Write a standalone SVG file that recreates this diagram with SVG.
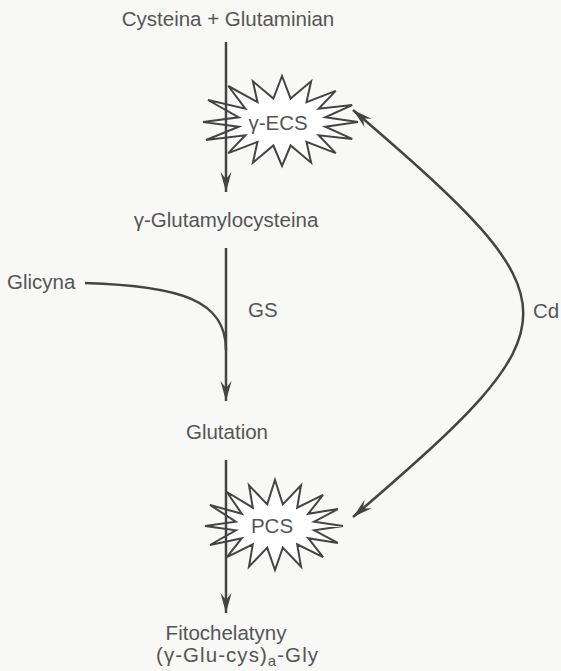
<svg xmlns="http://www.w3.org/2000/svg" width="561" height="671" viewBox="0 0 561 671">
<style>
text{font-family:"Liberation Sans",Arial,sans-serif;font-size:20.5px;fill:#555}
.star{fill:#fff;stroke:#444;stroke-width:2;stroke-linejoin:miter}
.ln{fill:none;stroke:#444;stroke-width:2.5}
</style>
<defs>
<marker id="ah" markerUnits="userSpaceOnUse" markerWidth="26" markerHeight="14" viewBox="-22 -7 24 14" refX="0" refY="0" orient="auto">
<path d="M0,0 L-20,-5.5 L-13,0 L-20,5.5 Z" fill="#444"/>
</marker>
<marker id="ah2" markerUnits="userSpaceOnUse" markerWidth="26" markerHeight="14" viewBox="-2 -7 24 14" refX="0" refY="0" orient="auto">
<path d="M0,0 L20,-5.5 L13,0 L20,5.5 Z" fill="#444"/>
</marker>
</defs>
<rect width="561" height="671" fill="#f8f8f6"/>
<g id="n-ecs">
<polygon class="star" points="358,122 325.2,126.7 352.2,138.9 318.6,135.3 335.7,153.1 306.5,141.9 311.1,162.7 290.6,145.5 282,166 273.4,145.5 252.9,162.7 257.5,141.9 228.3,153.1 245.4,135.3 206,140 238.8,126.7 203,122 238.8,117.3 208,100 245.4,108.7 228.3,86 257.5,102.1 252.9,81.3 273.4,98.5 282,76 290.6,98.5 311.1,81.3 306.5,102.1 335.7,90.9 318.6,108.7 352.2,105.1 325.2,117.3"/>
<text x="278" y="130" text-anchor="middle">γ-ECS</text>
</g>
<g id="n-pcs">
<polygon class="star" points="343,526 314.2,530.3 337.8,542.9 308.2,538.2 323.1,557.1 297.2,544.3 301,566.7 282.8,547.6 275,570 267.2,547.6 249,566.7 252.8,544.3 226.9,557.1 241.8,538.2 210,545 235.8,530.3 205,526 235.8,521.7 210,505 241.8,513.8 226.9,492 252.8,507.7 249,485.3 267.2,504.4 275,480 282.8,504.4 301,485.3 297.2,507.7 323.1,494.9 308.2,513.8 337.8,509.1 314.2,521.7"/>
<text x="272" y="533" text-anchor="middle">PCS</text>
</g>
<g id="n-cys"><text x="228" y="26" text-anchor="middle">Cysteina + Glutaminian</text></g>
<g id="n-gec"><text x="226" y="227" text-anchor="middle">γ-Glutamylocysteina</text></g>
<g id="n-gly"><text x="7" y="289">Glicyna</text></g>
<g id="n-glut"><text x="227" y="439" text-anchor="middle">Glutation</text></g>
<g id="n-fito">
<text x="226" y="640" text-anchor="middle">Fitochelatyny</text>
<text x="156" y="662" textLength="162" lengthAdjust="spacing">(γ-Glu-cys)<tspan dy="4" font-size="15">a</tspan><tspan dy="-4">-Gly</tspan></text>
</g>
<g id="n-cd"><text x="533" y="318">Cd</text></g>
<g id="l-gs"><text x="248" y="317">GS</text></g>
<g id="connectors">
<line class="ln" x1="226" y1="42" x2="226" y2="192" marker-end="url(#ah)"/>
<line class="ln" x1="226" y1="248" x2="226" y2="401" marker-end="url(#ah)"/>
<path class="ln" d="M85,283 C180,286 226,300 226,350" stroke-width="3"/>
<line class="ln" x1="226" y1="460" x2="226" y2="613" marker-end="url(#ah)"/>
<path class="ln" d="M353,110 C580,305 580,322 353,517" marker-start="url(#ah2)" marker-end="url(#ah)"/>
</g>
</svg>
